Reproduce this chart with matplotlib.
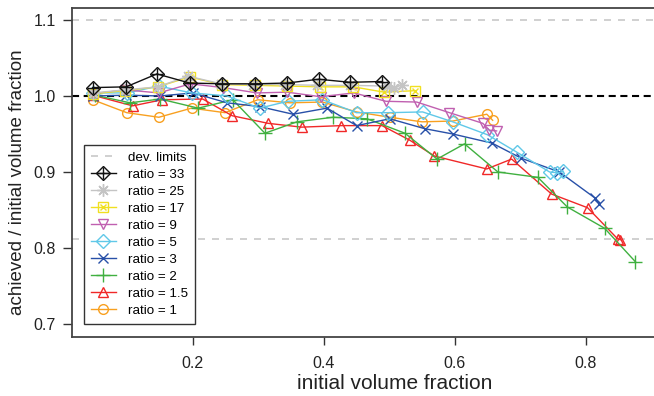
import matplotlib
matplotlib.use('Agg')
import matplotlib.pyplot as plt
from matplotlib.legend_handler import HandlerTuple
from matplotlib.lines import Line2D

plt.rcParams['font.family'] = ['Liberation Sans', 'DejaVu Sans']

# ratio = 33
x_r33 = [0.047, 0.098, 0.145, 0.195, 0.244, 0.295, 0.344, 0.392, 0.440, 0.489]
y_r33 = [1.011, 1.012, 1.029, 1.017, 1.016, 1.016, 1.017, 1.022, 1.018, 1.019]
# ratio = 25
x_r25 = [0.047, 0.097, 0.146, 0.193, 0.243, 0.292, 0.341, 0.390, 0.440, 0.496, 0.508, 0.519]
y_r25 = [1.004, 1.008, 1.012, 1.026, 1.016, 1.015, 1.015, 1.014, 1.014, 1.013, 1.010, 1.015]
# ratio = 17
x_r17 = [0.047, 0.097, 0.146, 0.195, 0.244, 0.295, 0.344, 0.394, 0.445, 0.492, 0.540]
y_r17 = [1.003, 1.007, 1.012, 1.025, 1.015, 1.014, 1.013, 1.012, 1.012, 1.005, 1.007]
# ratio = 9
x_r9 = [0.047, 0.097, 0.148, 0.196, 0.246, 0.298, 0.344, 0.395, 0.446, 0.495, 0.542, 0.592, 0.643, 0.653, 0.664]
y_r9 = [1.003, 1.008, 1.004, 1.016, 1.011, 1.004, 1.005, 0.999, 1.004, 0.993, 0.992, 0.978, 0.964, 0.955, 0.954]
# ratio = 5
x_r5 = [0.047, 0.099, 0.148, 0.198, 0.252, 0.302, 0.345, 0.398, 0.450, 0.498, 0.551, 0.597, 0.650, 0.695, 0.745, 0.757, 0.766]
y_r5 = [1.004, 1.004, 1.013, 1.004, 1.000, 0.984, 0.993, 0.995, 0.978, 0.978, 0.979, 0.966, 0.949, 0.926, 0.900, 0.899, 0.901]
# ratio = 3
x_r3 = [0.047, 0.098, 0.150, 0.200, 0.252, 0.302, 0.353, 0.405, 0.450, 0.501, 0.554, 0.597, 0.657, 0.702, 0.760, 0.814, 0.821]
y_r3 = [1.000, 1.001, 1.000, 1.004, 0.991, 0.986, 0.976, 0.984, 0.961, 0.970, 0.957, 0.950, 0.938, 0.918, 0.900, 0.866, 0.858]
# ratio = 2
x_r2 = [0.050, 0.104, 0.150, 0.208, 0.261, 0.310, 0.359, 0.414, 0.466, 0.524, 0.573, 0.615, 0.666, 0.727, 0.772, 0.829, 0.876]
y_r2 = [1.001, 0.991, 0.996, 0.984, 0.995, 0.951, 0.966, 0.972, 0.970, 0.951, 0.917, 0.937, 0.900, 0.893, 0.854, 0.826, 0.782]
# ratio = 1.5
x_r15 = [0.047, 0.108, 0.153, 0.215, 0.260, 0.315, 0.366, 0.427, 0.489, 0.531, 0.569, 0.649, 0.687, 0.748, 0.803, 0.849, 0.853]
y_r15 = [1.001, 0.987, 0.995, 0.996, 0.974, 0.964, 0.959, 0.961, 0.961, 0.942, 0.921, 0.904, 0.917, 0.871, 0.853, 0.812, 0.811]
# ratio = 1
x_r1 = [0.047, 0.099, 0.148, 0.198, 0.249, 0.299, 0.348, 0.398, 0.450, 0.501, 0.550, 0.597, 0.649, 0.658]
y_r1 = [0.995, 0.978, 0.972, 0.984, 0.978, 0.995, 0.991, 0.992, 0.979, 0.972, 0.966, 0.967, 0.976, 0.968]

dev_limits = [1.1, 0.812]
x_ticks = [0.2, 0.4, 0.6, 0.8]
y_ticks = [0.7, 0.8, 0.9, 1.0, 1.1]

fig = plt.figure(figsize=(6.54, 3.96), dpi=100)
ax = fig.add_axes([0.1101, 0.149, 0.9755, 0.831])

for v in dev_limits:
    ax.axhline(v, color='#c8c8c8', lw=1.2, dashes=(4.2, 4.2), zorder=1)
ax.axhline(1.0, color='black', lw=1.5, dashes=(3.4, 2.2), zorder=1)

mk = dict(markersize=7, markerfacecolor='none', markeredgewidth=1.0, lw=1.0)

h1, = ax.plot(x_r1, y_r1, color='#f8a020', marker='o', **mk)
h15, = ax.plot(x_r15, y_r15, color='#f02828', marker='^', **mk)
h2, = ax.plot(x_r2, y_r2, color='#40b040', marker='+', markersize=10, lw=1.0, markeredgewidth=1.0)
h3, = ax.plot(x_r3, y_r3, color='#2850a8', marker='x', markersize=7, lw=1.0, markeredgewidth=1.0)
h5, = ax.plot(x_r5, y_r5, color='#60c8e8', marker='D', **mk)
h9, = ax.plot(x_r9, y_r9, color='#c060b0', marker='v', **mk)
h17a, = ax.plot(x_r17, y_r17, color='#f0e020', marker='s', **mk)
h17b, = ax.plot(x_r17, y_r17, color='#f0e020', marker='x', markersize=5, lw=0, markeredgewidth=1.0)
h25, = ax.plot(x_r25, y_r25, color='#c4c4c4', marker=(8, 2, 0), markersize=9, lw=1.0, markeredgewidth=1.0)
h33a, = ax.plot(x_r33, y_r33, color='#111111', marker='D', **mk)
h33b, = ax.plot(x_r33, y_r33, color='#111111', marker='+', markersize=9, lw=0, markeredgewidth=1.0)

hdev = Line2D([], [], color='#c8c8c8', lw=1.2, dashes=(4.2, 4.2))

handles = [hdev, (h33a, h33b), h25, (h17a, h17b), h9, h5, h3, h2, h15, h1]
labels = ['dev. limits', 'ratio = 33', 'ratio = 25', 'ratio = 17', 'ratio = 9',
          'ratio = 5', 'ratio = 3', 'ratio = 2', 'ratio = 1.5', 'ratio = 1']
leg = ax.legend(handles, labels, handler_map={tuple: HandlerTuple(ndivide=1)},
                loc='lower left', bbox_to_anchor=(0.019, 0.04), borderaxespad=0,
                fontsize=9.6, fancybox=False, framealpha=1, edgecolor='#333333',
                handlelength=1.9, handletextpad=0.9, labelspacing=0.35, borderpad=0.5)
leg.get_frame().set_linewidth(1.0)

ax.set_xlim(0.0153, 0.99)
ax.set_ylim(0.683, 1.1158)
ax.set_xticks(x_ticks)
ax.set_xticklabels(['0.2', '0.4', '0.6', '0.8'])
ax.set_yticks(y_ticks)
ax.set_yticklabels(['0.7', '0.8', '0.9', '1.0', '1.1'])
ax.tick_params(axis='y', length=6.5, width=1.0, pad=5.0, labelsize=11.5, color='#333333', labelcolor='#222222')
ax.tick_params(axis='x', length=5.8, width=1.0, pad=8, labelsize=11.5, color='#333333', labelcolor='#222222')

for s in ax.spines.values():
    s.set_color('#444444')
    s.set_linewidth(1.3)

ax.set_xlabel('initial volume fraction', fontsize=15, color='#222222')
ax.set_ylabel('achieved / initial volume fraction', fontsize=13.5, color='#222222')
ax.xaxis.set_label_coords((395 - 72) / 638, -(374 - 337) / 329)
ax.yaxis.set_label_coords(-(72 - 26) / 638, 0.47)

fig.savefig('out.png', dpi=100)
